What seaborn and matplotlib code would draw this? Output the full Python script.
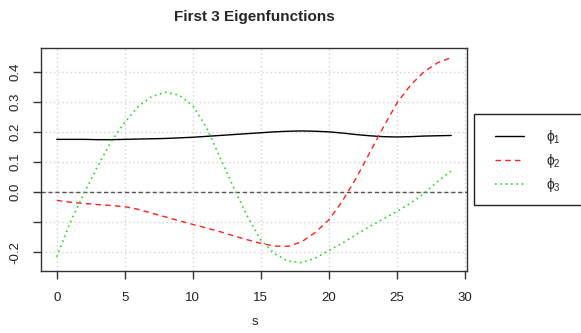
import numpy as np
import pandas as pd
import matplotlib
matplotlib.use("Agg")
import matplotlib.pyplot as plt
import seaborn as sns
from matplotlib.patches import Rectangle

# ---- data ----
s = list(range(30))
phi1 = [0.175, 0.175, 0.175, 0.174, 0.174, 0.175, 0.176, 0.177, 0.178, 0.180,
        0.182, 0.185, 0.188, 0.191, 0.194, 0.197, 0.200, 0.202, 0.203, 0.202,
        0.200, 0.196, 0.191, 0.187, 0.184, 0.183, 0.184, 0.186, 0.187, 0.188]
phi2 = [-0.028, -0.034, -0.038, -0.042, -0.045, -0.049, -0.058, -0.071, -0.083, -0.096,
        -0.108, -0.120, -0.132, -0.146, -0.159, -0.171, -0.180, -0.181, -0.166, -0.135,
        -0.093, -0.030, 0.045, 0.130, 0.215, 0.295, 0.355, 0.400, 0.430, 0.447]
phi3 = [-0.216, -0.100, -0.005, 0.085, 0.168, 0.232, 0.285, 0.318, 0.332, 0.322,
        0.287, 0.215, 0.115, 0.015, -0.080, -0.160, -0.205, -0.230, -0.235, -0.220,
        -0.195, -0.170, -0.142, -0.115, -0.090, -0.065, -0.038, -0.005, 0.035, 0.070]
labels = ["ϕ$_1$", "ϕ$_2$", "ϕ$_3$"]
title = "First 3 Eigenfunctions"
xlabel = "s"
xticks = [0, 5, 10, 15, 20, 25, 30]
yticks = [-0.2, -0.1, 0.0, 0.1, 0.2, 0.3, 0.4]
yticklabels = ["-0.2", "", "0.0", "0.1", "0.2", "0.3", "0.4"]

sns.set_style("white")
plt.rcParams["font.family"] = ["Liberation Sans", "DejaVu Sans"]
plt.rcParams["mathtext.default"] = "regular"

W, H = 581, 333
fig = plt.figure(figsize=(W / 100, H / 100), dpi=100)
ax = fig.add_axes([41 / W, 1 - 271 / H, (467 - 41) / W, (271 - 48) / H])

df = pd.DataFrame({"s": s, "phi1": phi1, "phi2": phi2, "phi3": phi3})

# grid
for xv in xticks:
    ax.axvline(xv, color="#d3d3d3", lw=1, ls=(0, (1, 2)), zorder=0)
for yv in yticks:
    ax.axhline(yv, color="#d3d3d3", lw=1, ls=(0, (1, 2)), zorder=0)
ax.axhline(0, color="#555555", lw=1, ls=(0, (3, 2)), zorder=1)

sns.lineplot(data=df, x="s", y="phi1", ax=ax, color="black", lw=1, label=labels[0])
sns.lineplot(data=df, x="s", y="phi2", ax=ax, color="#ff2020", lw=1,
             linestyle=(0, (4, 3)), label=labels[1])
sns.lineplot(data=df, x="s", y="phi3", ax=ax, color="#22dd22", lw=1.2,
             linestyle=(0, (1, 2.2)), label=labels[2])

ax.set_xlim(-1.16, 30.16)
ax.set_ylim(-0.263, 0.479)
ax.set_xticks(xticks)
ax.set_xticklabels([str(v) for v in xticks], fontsize=9.5)
ax.set_yticks(yticks)
ax.set_yticklabels(yticklabels, fontsize=9.5, rotation=90, va="center")
ax.tick_params(axis="both", which="major", direction="out", length=6, width=1,
               color="#333333", labelcolor="#222222", bottom=True, left=True)
ax.tick_params(axis="x", pad=9)
ax.tick_params(axis="y", pad=8)
ax.set_xlabel("")
ax.set_ylabel("")
for sp in ax.spines.values():
    sp.set_visible(True)
    sp.set_color("#333333")
    sp.set_linewidth(1)

handles, labs = ax.get_legend_handles_labels()
ax.legend_.remove()

fig.text(254 / W, 1 - 17 / H, title, ha="center", va="center",
         fontsize=11, fontweight="bold")
fig.text(255 / W, 1 - 322 / H, xlabel, ha="center", va="center", fontsize=9.5)

# legend box
fig.patches.append(Rectangle((474 / W, 1 - 205 / H), (600 - 474) / W, (205 - 114) / H,
                             transform=fig.transFigure, fill=False,
                             edgecolor="#222222", lw=1))
fig.legend(handles, labs, loc="upper left",
           bbox_to_anchor=(495 / W, 1 - 128 / H), frameon=False,
           fontsize=10, handlelength=2.1, handletextpad=1.6,
           labelspacing=0.42, borderpad=0, borderaxespad=0)

fig.savefig("out.png", dpi=100)
